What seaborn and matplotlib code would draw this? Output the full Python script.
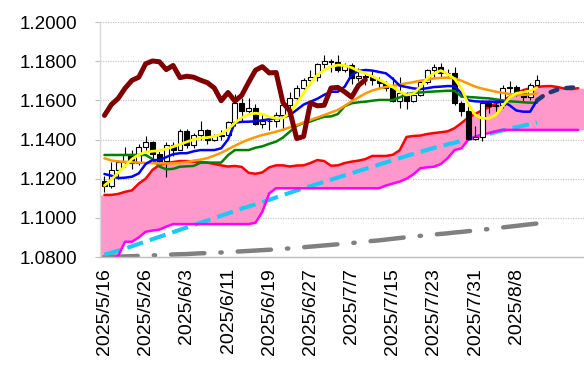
import numpy as np
import pandas as pd
import matplotlib
matplotlib.use("Agg")
import matplotlib.pyplot as plt
import seaborn as sns

# ---------------- data ----------------
dates = ["2025/5/16", "2025/5/19", "2025/5/20", "2025/5/21", "2025/5/22", "2025/5/23",
         "2025/5/26", "2025/5/27", "2025/5/28", "2025/5/29", "2025/5/30",
         "2025/6/2", "2025/6/3", "2025/6/4", "2025/6/5", "2025/6/6",
         "2025/6/9", "2025/6/10", "2025/6/11", "2025/6/12", "2025/6/13",
         "2025/6/16", "2025/6/17", "2025/6/18", "2025/6/19", "2025/6/20",
         "2025/6/23", "2025/6/24", "2025/6/25", "2025/6/26", "2025/6/27",
         "2025/6/30", "2025/7/1", "2025/7/2", "2025/7/3", "2025/7/4",
         "2025/7/7", "2025/7/8", "2025/7/9", "2025/7/10", "2025/7/11",
         "2025/7/14", "2025/7/15", "2025/7/16", "2025/7/17", "2025/7/18",
         "2025/7/21", "2025/7/22", "2025/7/23", "2025/7/24", "2025/7/25",
         "2025/7/28", "2025/7/29", "2025/7/30", "2025/7/31", "2025/8/1",
         "2025/8/4", "2025/8/5", "2025/8/6", "2025/8/7", "2025/8/8",
         "2025/8/11", "2025/8/12", "2025/8/13"]

open_ = [1.1187, 1.1163, 1.1242, 1.1284, 1.1328, 1.1282, 1.1363, 1.1385, 1.1325, 1.1290,
         1.1370, 1.1347, 1.1442, 1.1370, 1.1421, 1.1446, 1.1398, 1.1419, 1.1422, 1.1487,
         1.1584, 1.1547, 1.1560, 1.1480, 1.1495, 1.1495, 1.1523, 1.1578, 1.1610, 1.1662,
         1.1702, 1.1718, 1.1787, 1.1801, 1.1797, 1.1757, 1.1778, 1.1716, 1.1723, 1.1718,
         1.1703, 1.1690, 1.1663, 1.1598, 1.1640, 1.1596, 1.1626, 1.1692, 1.1754, 1.1772,
         1.1740, 1.1742, 1.1588, 1.1546, 1.1405, 1.1415, 1.1587, 1.1572, 1.1575, 1.1663,
         1.1666, 1.1643, 1.1616, 1.1676]
high = [1.1213, 1.1287, 1.1295, 1.1363, 1.1345, 1.1375, 1.1418, 1.1390, 1.1340, 1.1385,
        1.1385, 1.1455, 1.1455, 1.1433, 1.1495, 1.1455, 1.1430, 1.1450, 1.1495, 1.1631,
        1.1614, 1.1614, 1.1580, 1.1530, 1.1510, 1.1540, 1.1590, 1.1641, 1.1680, 1.1715,
        1.1754, 1.1790, 1.1830, 1.1810, 1.1830, 1.1790, 1.1790, 1.1765, 1.1745, 1.1750,
        1.1720, 1.1700, 1.1720, 1.1720, 1.1645, 1.1645, 1.1700, 1.1760, 1.1788, 1.1789,
        1.1760, 1.1770, 1.1595, 1.1575, 1.1470, 1.1600, 1.1600, 1.1600, 1.1680, 1.1700,
        1.1680, 1.1660, 1.1690, 1.1730]
low = [1.1130, 1.1150, 1.1200, 1.1260, 1.1250, 1.1270, 1.1340, 1.1280, 1.1280, 1.1210,
       1.1315, 1.1345, 1.1357, 1.1355, 1.1400, 1.1375, 1.1390, 1.1400, 1.1410, 1.1470,
       1.1490, 1.1535, 1.1475, 1.1460, 1.1450, 1.1465, 1.1450, 1.1560, 1.1590, 1.1640,
       1.1680, 1.1700, 1.1760, 1.1745, 1.1745, 1.1745, 1.1685, 1.1700, 1.1680, 1.1680,
       1.1665, 1.1650, 1.1590, 1.1560, 1.1555, 1.1590, 1.1620, 1.1685, 1.1715, 1.1720,
       1.1715, 1.1575, 1.1520, 1.1400, 1.1400, 1.1390, 1.1535, 1.1540, 1.1560, 1.1630,
       1.1620, 1.1590, 1.1600, 1.1670]
close = [1.1163, 1.1242, 1.1284, 1.1328, 1.1282, 1.1363, 1.1385, 1.1325, 1.1290, 1.1370,
         1.1347, 1.1442, 1.1370, 1.1421, 1.1446, 1.1398, 1.1419, 1.1422, 1.1487, 1.1584,
         1.1547, 1.1560, 1.1480, 1.1495, 1.1495, 1.1523, 1.1578, 1.1610, 1.1662, 1.1702,
         1.1718, 1.1787, 1.1801, 1.1797, 1.1757, 1.1778, 1.1716, 1.1723, 1.1718, 1.1703,
         1.1690, 1.1663, 1.1598, 1.1640, 1.1596, 1.1626, 1.1692, 1.1754, 1.1772, 1.1740,
         1.1742, 1.1588, 1.1546, 1.1405, 1.1415, 1.1587, 1.1572, 1.1575, 1.1663, 1.1666,
         1.1643, 1.1616, 1.1676, 1.1705]

tenkan = [1.1224, 1.1215, 1.1203, 1.1205, 1.1210, 1.1227, 1.1275, 1.1295, 1.1295, 1.1310,
          1.1325, 1.1330, 1.1330, 1.1340, 1.1346, 1.1346, 1.1346, 1.1355, 1.1400, 1.1486,
          1.1490, 1.1491, 1.1493, 1.1498, 1.1503, 1.1508, 1.1512, 1.1525, 1.1551, 1.1578,
          1.1593, 1.1608, 1.1628, 1.1644, 1.1644, 1.1670, 1.1730, 1.1750, 1.1755, 1.1752,
          1.1745, 1.1738, 1.1710, 1.1675, 1.1668, 1.1661, 1.1657, 1.1662, 1.1668, 1.1670,
          1.1673, 1.1672, 1.1636, 1.1600, 1.1595, 1.1593, 1.1593, 1.1593, 1.1593, 1.1575,
          1.1548, 1.1542, 1.1542, 1.1600]
tenkan_ext = [1.1600, 1.1625, 1.1642, 1.1655, 1.1662, 1.1665, 1.1666]   # idx 63..69
kijun = [1.1321, 1.1321, 1.1321, 1.1321, 1.1321, 1.1321, 1.1321, 1.1300, 1.1262, 1.1248,
         1.1250, 1.1261, 1.1263, 1.1265, 1.1282, 1.1282, 1.1282, 1.1282, 1.1320, 1.1346,
         1.1346, 1.1346, 1.1358, 1.1365, 1.1378, 1.1389, 1.1410, 1.1440, 1.1470, 1.1485,
         1.1492, 1.1505, 1.1516, 1.1518, 1.1530, 1.1570, 1.1585, 1.1590, 1.1593, 1.1598,
         1.1602, 1.1602, 1.1602, 1.1615, 1.1630, 1.1638, 1.1640, 1.1643, 1.1645, 1.1647,
         1.1649, 1.1649, 1.1619, 1.1617, 1.1615, 1.1612, 1.1610, 1.1605, 1.1600, 1.1595,
         1.1593, 1.1590, 1.1588, 1.1588]
ma_short = [1.1165, 1.1195, 1.1230, 1.1265, 1.1300, 1.1322, 1.1336, 1.1340, 1.1343, 1.1352,
            1.1363, 1.1375, 1.1388, 1.1400, 1.1408, 1.1410, 1.1415, 1.1428, 1.1452, 1.1485,
            1.1512, 1.1528, 1.1534, 1.1530, 1.1516, 1.1508, 1.1510, 1.1535, 1.1585, 1.1636,
            1.1687, 1.1729, 1.1755, 1.1772, 1.1780, 1.1778, 1.1767, 1.1750, 1.1738, 1.1722,
            1.1705, 1.1688, 1.1668, 1.1644, 1.1627, 1.1634, 1.1668, 1.1712, 1.1738, 1.1752,
            1.1734, 1.1710, 1.1660, 1.1580, 1.1525, 1.1508, 1.1508, 1.1525, 1.1570, 1.1615,
            1.1636, 1.1642, 1.1648, 1.1665]
ma_mid = [1.1304, 1.1293, 1.1288, 1.1286, 1.1284, 1.1282, 1.1280, 1.1279, 1.1278, 1.1278,
          1.1278, 1.1280, 1.1285, 1.1292, 1.1297, 1.1305, 1.1318, 1.1332, 1.1350, 1.1368,
          1.1385, 1.1400, 1.1412, 1.1423, 1.1431, 1.1440, 1.1450, 1.1462, 1.1474, 1.1487,
          1.1500, 1.1512, 1.1525, 1.1538, 1.1551, 1.1572, 1.1595, 1.1615, 1.1635, 1.1650,
          1.1660, 1.1668, 1.1674, 1.1680, 1.1687, 1.1693, 1.1700, 1.1705, 1.1712, 1.1715,
          1.1716, 1.1712, 1.1700, 1.1685, 1.1670, 1.1660, 1.1652, 1.1644, 1.1638, 1.1633,
          1.1628, 1.1628, 1.1630, 1.1636]
ma_long = [1.0813, 1.0822, 1.0832, 1.0843, 1.0855, 1.0867, 1.0879, 1.0891, 1.0903, 1.0915,
           1.0927, 1.0939, 1.0951, 1.0963, 1.0975, 1.0987, 1.0999, 1.1011, 1.1023, 1.1035,
           1.1047, 1.1058, 1.1069, 1.1080, 1.1092, 1.1104, 1.1116, 1.1128, 1.1140, 1.1151,
           1.1162, 1.1173, 1.1184, 1.1195, 1.1206, 1.1217, 1.1228, 1.1239, 1.1250, 1.1261,
           1.1272, 1.1283, 1.1294, 1.1305, 1.1316, 1.1327, 1.1337, 1.1347, 1.1357, 1.1366,
           1.1375, 1.1384, 1.1393, 1.1402, 1.1411, 1.1420, 1.1429, 1.1438, 1.1447, 1.1455,
           1.1463, 1.1471, 1.1479, 1.1487]
ma_200 = [1.0800, 1.0801, 1.0802, 1.0803, 1.0804, 1.0806, 1.0807, 1.0808, 1.0810, 1.0811,
          1.0813, 1.0814, 1.0815, 1.0817, 1.0819, 1.0820, 1.0822, 1.0823, 1.0825, 1.0827,
          1.0829, 1.0831, 1.0833, 1.0835, 1.0837, 1.0839, 1.0842, 1.0844, 1.0847, 1.0850,
          1.0853, 1.0856, 1.0859, 1.0862, 1.0865, 1.0868, 1.0871, 1.0875, 1.0878, 1.0882,
          1.0885, 1.0889, 1.0893, 1.0897, 1.0901, 1.0904, 1.0908, 1.0911, 1.0915, 1.0918,
          1.0921, 1.0925, 1.0928, 1.0932, 1.0935, 1.0939, 1.0943, 1.0947, 1.0951, 1.0955,
          1.0959, 1.0963, 1.0967, 1.0971]
span_a = [1.1117, 1.1117, 1.1122, 1.1133, 1.1140, 1.1175, 1.1200, 1.1245, 1.1270, 1.1280,
          1.1285, 1.1290, 1.1290, 1.1287, 1.1285, 1.1282, 1.1275, 1.1268, 1.1262, 1.1265,
          1.1260, 1.1230, 1.1225, 1.1232, 1.1258, 1.1268, 1.1268, 1.1262, 1.1267, 1.1268,
          1.1280, 1.1295, 1.1290, 1.1266, 1.1268, 1.1280, 1.1287, 1.1292, 1.1300, 1.1316,
          1.1316, 1.1316, 1.1322, 1.1345, 1.1413, 1.1418, 1.1420, 1.1428, 1.1433, 1.1437,
          1.1442, 1.1458, 1.1484, 1.1512, 1.1530, 1.1550, 1.1564, 1.1584, 1.1600, 1.1618,
          1.1637, 1.1652, 1.1662, 1.1668, 1.1672, 1.1673, 1.1668, 1.1660, 1.1657, 1.1662]
span_b = [1.0780, 1.0785, 1.0805, 1.0878, 1.0878, 1.0900, 1.0929, 1.0935, 1.0940, 1.0955,
          1.0968, 1.0968, 1.0968, 1.0968, 1.0968, 1.0968, 1.0968, 1.0968, 1.0968, 1.0968,
          1.0968, 1.0968, 1.0975, 1.1031, 1.1125, 1.1151, 1.1151, 1.1151, 1.1151, 1.1151,
          1.1151, 1.1151, 1.1151, 1.1151, 1.1151, 1.1151, 1.1151, 1.1151, 1.1151, 1.1151,
          1.1151, 1.1165, 1.1175, 1.1185, 1.1200, 1.1222, 1.1253, 1.1258, 1.1261, 1.1275,
          1.1305, 1.1346, 1.1355, 1.1400, 1.1414, 1.1425, 1.1433, 1.1442, 1.1449, 1.1449,
          1.1449, 1.1449, 1.1449, 1.1449, 1.1449, 1.1449, 1.1449, 1.1449, 1.1449, 1.1449]
chikou_shift = 25
y_ticks = [1.08, 1.10, 1.12, 1.14, 1.16, 1.18, 1.20]
label_step = 6

# ---------------- build frames ----------------
n = len(close)
x = np.arange(n)
df = pd.DataFrame({"x": x, "open": open_, "high": high, "low": low, "close": close,
                   "tenkan": tenkan, "kijun": kijun, "ma_short": ma_short,
                   "ma_mid": ma_mid, "ma_long": ma_long, "ma_200": ma_200})
cloud = pd.DataFrame({"x": np.arange(len(span_a)), "a": span_a, "b": span_b})
chikou = pd.DataFrame({"x": np.arange(n - chikou_shift), "c": close[chikou_shift:]})
ext = pd.DataFrame({"x": np.arange(n - 1, n - 1 + len(tenkan_ext)), "v": tenkan_ext})

# ---------------- style ----------------
sns.set_theme(style="white")
plt.rcParams["font.family"] = ["Liberation Sans", "DejaVu Sans"]

W, H = 584, 372
fig = plt.figure(figsize=(W / 100, H / 100), dpi=100)
ax = fig.add_axes([100 / W, 1 - 257 / H, 484 / W, 235 / H])
x_left, x_right = -0.65, 69.85
ax.set_xlim(x_left, x_right)
ax.set_ylim(1.08, 1.20)

# cloud fill extended to the frame edges
fx = np.r_[x_left, cloud["x"], x_right]
fa = np.r_[span_a[0], span_a, span_a[-1]]
fb = np.r_[span_b[0], span_b, span_b[-1]]
ax.fill_between(fx, fb, fa, color="#FF99CC", linewidth=0, zorder=1)

# long moving averages
sns.lineplot(data=df, x="x", y="ma_200", ax=ax, color="#808080", linewidth=3.2,
             linestyle=(0, (7.5, 3.6, 0.3, 3.6)), dash_capstyle="round", zorder=2)
sns.lineplot(data=df, x="x", y="ma_long", ax=ax, color="#1EC8F5", linewidth=3.0,
             linestyle=(0, (4, 1.7)), zorder=2.2)

# spans
sns.lineplot(data=cloud, x="x", y="b", ax=ax, color="#FF00FF", linewidth=1.8, zorder=2.5)
sns.lineplot(data=cloud, x="x", y="a", ax=ax, color="#FF0000", linewidth=1.8, zorder=2.5)

# candles
up = df["close"] >= df["open"]
ax.vlines(df["x"], df["low"], df["high"], color="black", linewidth=0.8, zorder=3)
body_lo = np.minimum(df["open"], df["close"])
body_h = np.abs(df["close"] - df["open"])
ax.bar(df["x"], body_h, bottom=body_lo, width=0.72,
       color=np.where(up, "white", "black"), edgecolor="black", linewidth=0.8, zorder=3.1)

# indicator lines
sns.lineplot(data=df, x="x", y="kijun", ax=ax, color="#008000", linewidth=1.8, zorder=4)
sns.lineplot(data=df, x="x", y="ma_mid", ax=ax, color="#FF9900", linewidth=1.8, zorder=4)
sns.lineplot(data=df, x="x", y="tenkan", ax=ax, color="#0000FF", linewidth=1.8, zorder=4.1)
sns.lineplot(data=ext, x="x", y="v", ax=ax, color="#1F3A70", linewidth=3.2,
             linestyle=(0, (1.6, 2.0)), dash_capstyle="round", zorder=4.1)
sns.lineplot(data=df, x="x", y="ma_short", ax=ax, color="#FFFF00", linewidth=2.0, zorder=4.2)
sns.lineplot(data=chikou, x="x", y="c", ax=ax, color="#800000", linewidth=3.6,
             solid_capstyle="round", zorder=5)

# ---------------- axes cosmetics ----------------
ax.set_xlabel("")
ax.set_ylabel("")
ax.set_yticks(y_ticks)
ax.set_yticklabels([f"{v:.4f}" for v in y_ticks])
tick_pos = list(range(0, n, label_step))
ax.set_xticks(tick_pos)
ax.set_xticklabels([dates[i] for i in tick_pos], rotation=90, va="top", ha="center")
ax.tick_params(axis="y", length=3.6, width=0.8, color="#BFBFBF", pad=13,
               labelsize=13.5, labelcolor="black", left=True)
ax.tick_params(axis="x", length=0, pad=8, labelsize=14, labelcolor="black")
ax.yaxis.grid(True, color="#C8C8C8", linestyle=(0, (1, 1)), linewidth=0.9)
ax.set_axisbelow(True)
ax.xaxis.grid(False)
for s in ["top", "right"]:
    ax.spines[s].set_visible(False)
ax.spines["left"].set_color("#D9D9D9")
ax.spines["bottom"].set_color("#BFBFBF")
ax.spines["left"].set_linewidth(1.0)
ax.spines["bottom"].set_linewidth(1.0)
ax.set_facecolor("white")
fig.patch.set_facecolor("white")
if ax.get_legend() is not None:
    ax.get_legend().remove()

fig.savefig("out.png", dpi=100, facecolor="white")
